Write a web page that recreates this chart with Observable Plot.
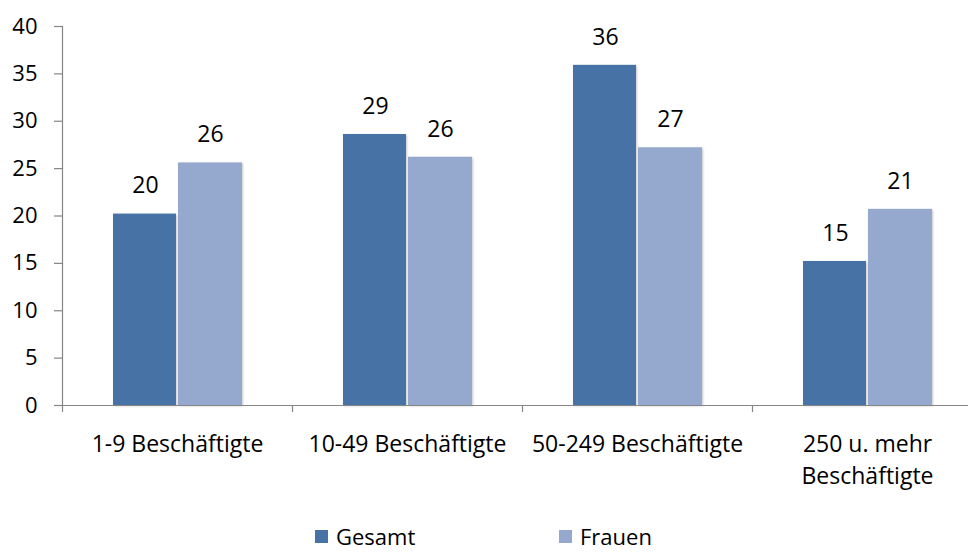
<!DOCTYPE html>
<html>
<head>
<meta charset="utf-8">
<script src="https://cdn.jsdelivr.net/npm/d3@7"></script>
<script src="https://cdn.jsdelivr.net/npm/@observablehq/plot@0.6"></script>
<style>
  html, body { margin: 0; padding: 0; background: white; }
  body { width: 968px; height: 552px; overflow: hidden; font-family: "Open Sans", sans-serif; }
  #chart svg g[aria-label="bar"] { filter: drop-shadow(1.5px 1px 1px rgba(0,0,0,0.22)); }
  #chart svg text { font-family: "Open Sans", sans-serif; }
  #legend { display: flex; align-items: center; height: 23px; line-height: 23px; margin-top: 3px; padding-left: 315px; font-size: 22px; color: #000; }
  #legend .item { display: flex; align-items: center; height: 23px; }
  #legend .item span { line-height: 23px; }
  #legend .sw { width: 13px; height: 13px; margin-right: 8px; }
</style>
</head>
<body>
<div id="chart"></div>
<div id="legend"></div>
<script>
const categories = ["1-9 Beschäftigte", "10-49 Beschäftigte", "50-249 Beschäftigte", "250 u. mehr\nBeschäftigte"];
const series = ["Gesamt", "Frauen"];
const gesamt = [20.2, 28.6, 35.9, 15.2];
const frauen = [25.6, 26.2, 27.2, 20.7];
const colors = ["#4672a6", "#95a9cf"];
const yTicks = [0, 5, 10, 15, 20, 25, 30, 35, 40];

const dataG = categories.map((c, i) => ({category: c, series: "Gesamt", value: gesamt[i]}));
const dataF = categories.map((c, i) => ({category: c, series: "Frauen", value: frauen[i]}));

const axisColor = "#868686";
const fs = 23;
const chart = Plot.plot({
  width: 968,
  height: 522,
  marginLeft: 62,
  marginRight: -14,
  marginTop: 26,
  marginBottom: 117,
  style: {fontFamily: "Open Sans, sans-serif", fontSize: fs + "px", color: "#000", background: "white", overflow: "visible"},
  x: {domain: categories, padding: 0},
  y: {domain: [0, 40]},
  color: {domain: series, range: colors},
  marks: [
    Plot.barY(dataG, {x: "category", y: "value", fill: colors[0], insetLeft: 51, insetRight: 116}),
    Plot.barY(dataF, {x: "category", y: "value", fill: colors[1], insetLeft: 116, insetRight: 50}),
    Plot.text(dataG, {x: "category", y: "value", text: d => d3.format(".0f")(d.value), dx: -32, dy: -28, fill: "#000", fontSize: fs}),
    Plot.text(dataF, {x: "category", y: "value", text: d => d3.format(".0f")(d.value), dx: 33, dy: -28, fill: "#000", fontSize: fs}),
    Plot.ruleY([0], {stroke: axisColor, strokeWidth: 1.2}),
    Plot.ruleX([categories[0]], {x: d => d, dx: -115, stroke: axisColor, strokeWidth: 1.2, insetBottom: -7}),
    Plot.ruleX(categories.slice(1), {x: d => d, dx: -115, stroke: axisColor, strokeWidth: 1.2, insetTop: 379, insetBottom: -7}),
    Plot.axisY({ticks: yTicks, tickSize: 8, tickPadding: 17, stroke: axisColor, strokeWidth: 1.2, label: null, tickFormat: d => String(d), fill: "#000", fontSize: 22}),
    Plot.axisX({tickSize: 0, tickPadding: 24, label: null, lineHeight: 1.39, fill: "#000", fontSize: fs})
  ]
});
document.getElementById("chart").appendChild(chart);

const legend = document.getElementById("legend");
series.forEach((s, i) => {
  const item = document.createElement("div");
  item.className = "item";
  if (i === 0) item.style.width = "244px";
  const sw = document.createElement("div");
  sw.className = "sw";
  sw.style.background = colors[i];
  const t = document.createElement("span");
  t.textContent = s;
  item.appendChild(sw);
  item.appendChild(t);
  legend.appendChild(item);
});
</script>
</body>
</html>
